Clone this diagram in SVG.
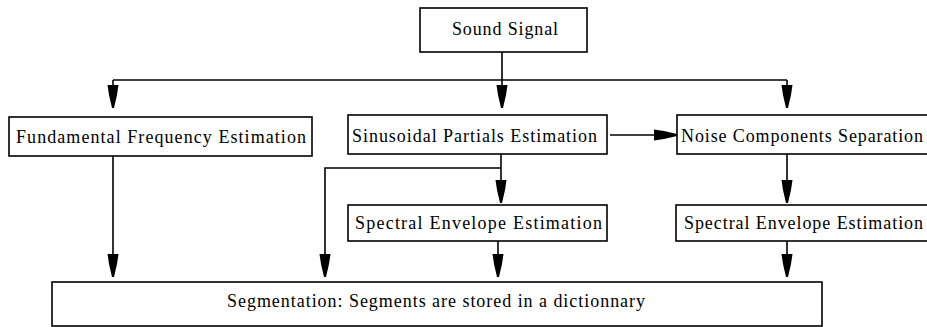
<svg xmlns="http://www.w3.org/2000/svg" width="927" height="327" viewBox="0 0 927 327">
<style>
  .box { fill: #ffffff; stroke: #000000; stroke-width: 1.6; }
  .lbl { font-family: "Liberation Serif", "Times New Roman", serif; font-size: 18px; fill: #000000; }
  .wire { fill: none; stroke: #000000; stroke-width: 1.6; }
</style>
<defs>
  <marker id="head" markerUnits="userSpaceOnUse" viewBox="-24 -7 25 14" refX="0" refY="0" markerWidth="25" markerHeight="14" orient="auto">
    <path d="M-23,-5.5 L-23,5.5 L-13,4 L0,1 L0,-1 L-13,-4 Z" fill="#000000"/>
  </marker>
</defs>
<rect width="927" height="327" fill="#ffffff"/>

<g id="connectors">
  <path class="wire" d="M502,52 V108" marker-end="url(#head)"/>
  <path class="wire" d="M113,80 H787"/>
  <path class="wire" d="M113,80 V108" marker-end="url(#head)"/>
  <path class="wire" d="M787,80 V108" marker-end="url(#head)"/>
  <path class="wire" d="M610,135 H677" marker-end="url(#head)"/>
  <path class="wire" d="M113,156 V277" marker-end="url(#head)"/>
  <path class="wire" d="M501,154 V203" marker-end="url(#head)"/>
  <path class="wire" d="M501,168 H325 V277" marker-end="url(#head)"/>
  <path class="wire" d="M498,241 V277" marker-end="url(#head)"/>
  <path class="wire" d="M787,154 V203" marker-end="url(#head)"/>
  <path class="wire" d="M787,241 V277" marker-end="url(#head)"/>
</g>

<g id="sound-signal">
  <rect class="box" x="420" y="8" width="167" height="44"/>
  <text class="lbl" x="452" y="35" textLength="106" lengthAdjust="spacing">Sound Signal</text>
</g>

<g id="fundamental-frequency">
  <rect class="box" x="9" y="117" width="303" height="39"/>
  <text class="lbl" x="16" y="143" textLength="290" lengthAdjust="spacing">Fundamental Frequency Estimation</text>
</g>

<g id="sinusoidal-partials">
  <rect class="box" x="348" y="115" width="259" height="39"/>
  <text class="lbl" x="352" y="142" textLength="245" lengthAdjust="spacing">Sinusoidal Partials Estimation</text>
</g>

<g id="noise-components">
  <rect class="box" x="677" y="115" width="270" height="39"/>
  <text class="lbl" x="681" y="142" textLength="242" lengthAdjust="spacing">Noise Components Separation</text>
</g>

<g id="spectral-envelope-1">
  <rect class="box" x="348" y="205" width="259" height="36"/>
  <text class="lbl" x="355" y="229" textLength="247" lengthAdjust="spacing">Spectral Envelope  Estimation</text>
</g>

<g id="spectral-envelope-2">
  <rect class="box" x="676" y="205" width="270" height="36"/>
  <text class="lbl" x="684" y="229" textLength="239" lengthAdjust="spacing">Spectral Envelope Estimation</text>
</g>

<g id="segmentation">
  <rect class="box" x="52" y="282" width="770" height="44"/>
  <text class="lbl" x="227" y="307" textLength="418" lengthAdjust="spacing">Segmentation: Segments are stored in a dictionnary</text>
</g>
</svg>
